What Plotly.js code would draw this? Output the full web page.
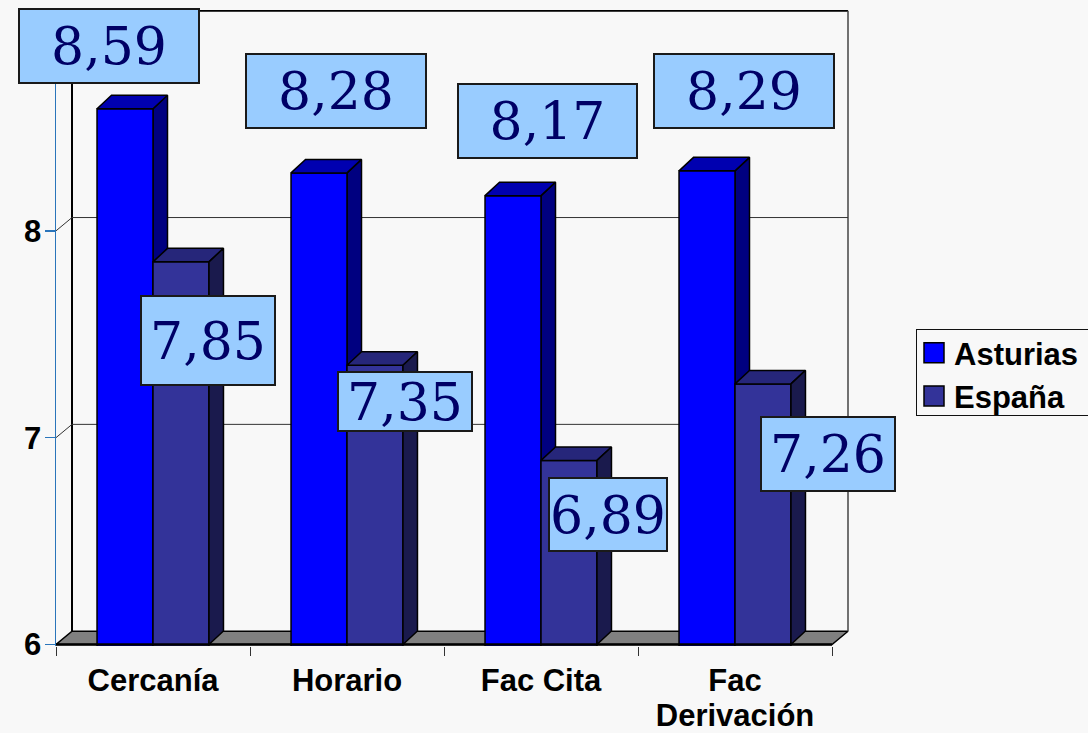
<!DOCTYPE html>
<html>
<head>
<meta charset="utf-8">
<script src="https://cdn.plot.ly/plotly-3.0.1.min.js"></script>
<style>html,body{margin:0;padding:0;background:#f8f8f8;overflow:hidden}</style>
</head>
<body>
<div id="chart" style="width:1088px;height:733px"></div>
<script>
// ---- data ----
const categories = ['Cercanía', 'Horario', 'Fac Cita', 'Fac<br>Derivación'];
const asturias = [8.59, 8.28, 8.17, 8.29];
const espana = [7.85, 7.35, 6.89, 7.26];
const yTicks = [6, 7, 8];
const seriesNames = ['Asturias', 'España'];

// ---- styling / geometry (pixels) ----
const frontL = 56, frontT = 24, frontW = 776, frontH = 621;   // front frame of the 3D box
const extraR = 18, extraT = 14, extraB = 1.5;                 // room for the receding walls
const pxX = frontW / 4, pxY = frontH / 3;                     // pixels per category, per unit
const yMin = 6, yMax = 9;
const xA = -0.5, xB = 3.5;
const wallDx = 16 / pxX, wallDy = 13.3 / pxY;
const barDx = 14.5 / pxX, barDy = 13.5 / pxY;
const bargap = 0.423, barW = (1 - bargap) / 2;
const L = frontL, T = frontT - extraT, W = frontW + extraR, H = frontH + extraT + extraB;
const px = v => (v - L) / W, py = v => (T + H - v) / H;
const xRange = [xA, xB + extraR / pxX];
const yRange = [yMin - extraB / pxY, yMax + extraT / pxY];

function faces(values, seriesIdx, kind) {
  const x = [], y = [];
  values.forEach((v, i) => {
    const x0 = i + (seriesIdx - 1) * barW, x1 = x0 + barW;
    if (kind === 'top') {
      x.push(x0, x1, x1 + barDx, x0 + barDx, x0, null);
      y.push(v, v, v + barDy, v + barDy, v, null);
    } else {
      x.push(x1, x1 + barDx, x1 + barDx, x1, x1, null);
      y.push(v, v + barDy, yMin + barDy, yMin, v, null);
    }
  });
  return {x, y};
}
function shapeTrace(d, fill, line, lw, axes) {
  return Object.assign({
    type: 'scatter', mode: 'lines', x: d.x, y: d.y,
    fill: fill ? 'toself' : 'none', fillcolor: fill || undefined,
    line: {color: line, width: lw},
    showlegend: false, hoverinfo: 'skip'
  }, axes);
}
const base = {xaxis: 'x', yaxis: 'y'};
const over = {xaxis: 'x2', yaxis: 'y2'};

const traces = [];
// floor
traces.push(shapeTrace({x: [xA, xA + wallDx, xB + wallDx, xB, xA],
                        y: [yMin, yMin + wallDy, yMin + wallDy, yMin, yMin]}, '#808080', '#000000', 1.5, base));
// back wall edges
traces.push(shapeTrace({x: [xA + wallDx, xA + wallDx, xB + wallDx],
                        y: [yMin + wallDy, yMax + wallDy, yMax + wallDy]}, null, '#000000', 2, base));
traces.push(shapeTrace({x: [xB + wallDx, xB + wallDx],
                        y: [yMax + wallDy, yMin + wallDy]}, null, '#444444', 1.5, base));
// grid lines on the walls
yTicks.slice(1).forEach(t => {
  traces.push(shapeTrace({x: [xA, xA + wallDx, xB + wallDx], y: [t, t + wallDy, t + wallDy]}, null, '#333333', 1, base));
});
// Asturias side faces sit behind the España bars
traces.push(shapeTrace(faces(asturias, 0, 'side'), '#000080', '#000000', 1.5, base));
// bars
traces.push({type: 'bar', name: seriesNames[0], x: [0, 1, 2, 3], y: asturias,
  marker: {color: '#0000FF', line: {color: '#000000', width: 1.5}}, hoverinfo: 'skip', xaxis: 'x2', yaxis: 'y2'});
traces.push({type: 'bar', name: seriesNames[1], x: [0, 1, 2, 3], y: espana,
  marker: {color: '#333399', line: {color: '#000000', width: 1.5}}, hoverinfo: 'skip', xaxis: 'x2', yaxis: 'y2'});
traces.push(shapeTrace(faces(asturias, 0, 'top'), '#0000B0', '#000000', 1.5, over));
traces.push(shapeTrace(faces(espana, 1, 'top'), '#26267A', '#000000', 1.5, over));
traces.push(shapeTrace(faces(espana, 1, 'side'), '#1A1A4D', '#000000', 1.5, over));
// front edge of the floor: the category axis line
traces.push(shapeTrace({x: [xA, xB], y: [yMin, yMin]}, null, '#000000', 2.5, over));

// ---- value labels (box centre and size in pixels) ----
const boxes = [
  {v: asturias[0], cx: 109, cy: 46, w: 182, h: 76},
  {v: asturias[1], cx: 336, cy: 91, w: 182, h: 76},
  {v: asturias[2], cx: 547.5, cy: 121, w: 181, h: 76},
  {v: asturias[3], cx: 744, cy: 91, w: 182, h: 76},
  {v: espana[0], cx: 208, cy: 340.5, w: 136, h: 91},
  {v: espana[1], cx: 405, cy: 401.5, w: 136, h: 61},
  {v: espana[2], cx: 608, cy: 514.5, w: 120, h: 75},
  {v: espana[3], cx: 828, cy: 454, w: 136, h: 76}
];
const annotations = boxes.map(b => ({
  xref: 'paper', yref: 'paper', x: px(b.cx), y: py(b.cy), xanchor: 'center', yanchor: 'middle',
  text: b.v.toFixed(2).replace('.', ','), showarrow: false,
  width: b.w - 4, height: b.h - 4, borderpad: 0, borderwidth: 2,
  bordercolor: '#1a1a1a', bgcolor: '#99CCFF', align: 'center', valign: 'middle',
  font: {family: '"DejaVu Serif", serif', size: 52, color: '#000066', weight: 'normal'}
}));

const boldFont = {family: '"Liberation Sans", Arial, sans-serif', size: 31, color: '#000000', weight: 'bold'};
const layout = {
  width: 1088, height: 733,
  margin: {l: L, t: T, r: 1088 - L - W, b: 733 - T - H, pad: 0},
  paper_bgcolor: '#f8f8f8', plot_bgcolor: '#f8f8f8',
  font: boldFont,
  barmode: 'group', bargap: bargap, bargroupgap: 0,
  xaxis: {
    type: 'linear', range: xRange, tickmode: 'array', tickvals: [0, 1, 2, 3], ticktext: categories,
    ticks: '', showgrid: false, zeroline: false, showline: false,
    ticklabelstandoff: 13,
    tickfont: boldFont,
    minor: {tickmode: 'array', tickvals: [-0.5, 0.5, 1.5, 2.5, 3.5], ticks: 'outside', ticklen: 9, tickwidth: 1, tickcolor: '#333333', showgrid: false},
    fixedrange: true
  },
  yaxis: {
    type: 'linear', range: yRange, tickmode: 'array', tickvals: yTicks,
    ticks: 'outside', ticklen: 10, tickwidth: 1.5, tickcolor: '#2a75bb',
    ticklabelstandoff: -3,
    showgrid: false, zeroline: false, showline: true, linecolor: '#2a75bb', linewidth: 1.5,
    tickfont: boldFont,
    fixedrange: true
  },
  xaxis2: {overlaying: 'x', visible: false, range: xRange, fixedrange: true},
  yaxis2: {overlaying: 'y', visible: false, range: yRange, fixedrange: true},
  showlegend: true,
  legend: {
    x: 1, y: py(329), xanchor: 'left', yanchor: 'top', orientation: 'v',
    bgcolor: '#f8f8f8', bordercolor: '#111111', borderwidth: 1,
    traceorder: 'normal', itemclick: false, itemdoubleclick: false,
    font: boldFont
  },
  annotations: annotations
};

Plotly.newPlot('chart', traces, layout, {displayModeBar: false, staticPlot: true}).then(() => {
  // legend swatches are square and larger; the box runs past the right edge of the page
  document.querySelectorAll('.legend .legendpoints path').forEach(p => {
    p.setAttribute('d', 'M10,10H-10V-10H10Z');
  });
  const legend = document.querySelector('.legend');
  if (legend) legend.setAttribute('transform', 'translate(916,329)');
  const bg = document.querySelector('.legend .bg');
  if (bg) { bg.setAttribute('height', 86); bg.setAttribute('width', 190); }
  document.querySelectorAll('.legend .scrollbox').forEach(s => {
    s.setAttribute('transform', 'translate(-3,-4)');
    s.removeAttribute('clip-path');
    s.style.clipPath = 'none';
  });
  // tighter line spacing for the two-line category label, so it stays inside the page
  document.querySelectorAll('.xtick text tspan.line').forEach((t, i) => {
    if (t.getAttribute('dy') && parseFloat(t.getAttribute('dy')) > 0) t.setAttribute('dy', '1.13em');
  });
});
</script>
</body>
</html>
